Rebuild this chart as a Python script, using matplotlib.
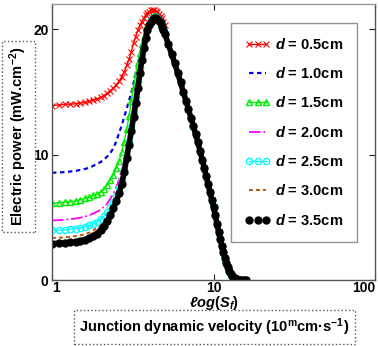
import matplotlib
matplotlib.use("Agg")
import matplotlib.pyplot as plt

plt.rcParams['font.family'] = ['Liberation Sans', 'DejaVu Sans']
plt.rcParams['font.weight'] = 'bold'
plt.rcParams['mathtext.fontset'] = 'custom'
plt.rcParams['mathtext.rm'] = 'Liberation Sans:bold'
plt.rcParams['mathtext.bf'] = 'Liberation Sans:bold'
plt.rcParams['mathtext.it'] = 'Liberation Sans:italic:bold'

# ---------------- data ----------------
s_head = [1.0, 1.1, 1.2, 1.3, 1.4, 1.5, 1.6, 1.7, 1.8, 1.9, 2.0, 2.1, 2.2, 2.3,
          2.4, 2.5, 2.6, 2.7, 2.8, 2.9, 3.0, 3.1, 3.2, 3.3, 3.4, 3.5, 3.6, 3.7,
          3.8, 3.9, 4.0, 4.1, 4.2, 4.3, 4.4, 4.5, 4.6, 4.7, 4.8, 4.9, 5.0]

p_d05 = [13.9, 13.95, 14.0, 14.02, 14.05, 14.1, 14.15, 14.25, 14.35, 14.45, 14.55,
         14.7, 14.9, 15.1, 15.3, 15.55, 15.85, 16.2, 16.6, 17.1, 17.6, 18.2, 18.9,
         19.4, 19.9, 20.3, 20.6, 20.9, 21.1, 21.3, 21.4, 21.5, 21.55, 21.5, 21.45,
         21.35, 21.2, 21.05, 20.85, 20.6, 20.3]
p_d10 = [8.55, 8.57, 8.6, 8.65, 8.7, 8.77, 8.85, 8.95, 9.1, 9.25, 9.4, 9.6, 9.85,
         10.15, 10.5, 11.05, 11.7, 12.3, 13.0, 13.65, 14.3, 14.95, 15.7, 16.5, 17.2,
         17.9, 18.6, 19.2, 19.7, 20.1, 20.45, 20.7, 20.9, 21.0, 21.0, 20.9, 20.75,
         20.5, 20.25, 19.95, 19.65]
p_d15 = [6.1, 6.15, 6.2, 6.25, 6.3, 6.4, 6.5, 6.6, 6.75, 6.85, 7.0, 7.25, 7.6, 8.0,
         8.4, 8.9, 9.5, 10.2, 11.0, 12.0, 13.1, 14.3, 15.4, 16.4, 17.3, 18.1, 18.8,
         19.4, 19.9, 20.3, 20.6, 20.85, 21.0, 21.05, 21.05, 20.95, 20.8, 20.55, 20.3,
         20.0, 19.7]
p_d20 = [4.75, 4.77, 4.8, 4.85, 4.9, 4.97, 5.05, 5.15, 5.3, 5.45, 5.6, 5.85, 6.1,
         6.5, 6.9, 7.4, 8.0, 8.7, 9.5, 10.5, 11.6, 12.8, 14.0, 15.2, 16.3, 17.3, 18.2,
         18.9, 19.5, 20.0, 20.4, 20.7, 20.9, 21.0, 21.0, 20.9, 20.75, 20.5, 20.25,
         19.95, 19.65]
p_d25 = [3.95, 3.97, 4.0, 4.05, 4.1, 4.17, 4.25, 4.35, 4.5, 4.65, 4.85, 5.1, 5.4,
         5.8, 6.2, 6.7, 7.3, 8.0, 8.8, 9.8, 11.0, 12.2, 13.4, 14.6, 15.8, 16.9, 17.9,
         18.7, 19.4, 19.95, 20.4, 20.7, 20.9, 21.0, 21.0, 20.9, 20.75, 20.5, 20.25,
         19.95, 19.65]
p_d30 = [3.35, 3.37, 3.4, 3.45, 3.5, 3.57, 3.65, 3.78, 3.95, 4.15, 4.35, 4.65, 5.0,
         5.4, 5.9, 6.45, 7.1, 7.85, 8.7, 9.75, 10.9, 12.0, 13.2, 14.3, 15.5, 16.7,
         17.7, 18.6, 19.35, 19.9, 20.35, 20.65, 20.85, 20.95, 20.95, 20.85, 20.7,
         20.5, 20.2, 19.9, 19.6]
p_d35 = [2.9, 2.92, 2.95, 3.0, 3.05, 3.12, 3.2, 3.35, 3.5, 3.7, 3.95, 4.3, 4.7,
         5.15, 5.7, 6.3, 6.9, 7.65, 8.6, 9.7, 10.8, 11.9, 13.0, 14.1, 15.3, 16.5,
         17.5, 18.5, 19.3, 19.9, 20.3, 20.6, 20.8, 20.9, 20.9, 20.8, 20.65, 20.45,
         20.2, 19.9, 19.6]

# common decreasing part (all series overlap there)
s_tail = [5.25, 5.5, 5.75, 6.0, 6.25, 6.5, 6.75, 7.0, 7.25, 7.5, 7.75, 8.0, 8.25,
          8.5, 8.75, 9.0, 9.25, 9.5, 9.75, 10.0, 10.25, 10.5, 10.75, 11.0, 11.25,
          11.5, 11.75, 12.0, 12.25, 12.5, 12.75, 13.0, 13.5, 14.0, 14.5, 15.0, 15.5,
          16.0]
p_tail = [18.8, 18.0, 17.3, 16.5, 15.75, 15.0, 14.3, 13.6, 12.9, 12.3, 11.6, 11.0,
          10.3, 9.6, 8.95, 8.3, 7.65, 7.05, 6.4, 5.8, 5.15, 4.5, 3.85, 3.25, 2.7,
          2.2, 1.75, 1.35, 1.0, 0.7, 0.48, 0.32, 0.15, 0.07, 0.03, 0.015, 0.005, 0.0]

labels = [r'$d$ = 0.5cm', r'$d$ = 1.0cm', r'$d$ = 1.5cm', r'$d$ = 2.0cm',
          r'$d$ = 2.5cm', r'$d$ = 3.0cm', r'$d$ = 3.5cm']
series = [p_d05, p_d10, p_d15, p_d20, p_d25, p_d30, p_d35]

x_ticks = [1, 10, 100]
x_ticklabels = ['1', '10', '100']
y_ticks = [0, 10, 20]
y_ticklabels = ['0', '10', '20']

# ---------------- styles ----------------
styles = [
    dict(color='#ff0000', ls='-', lw=1.0, marker='x', ms=4, mew=0.8),
    dict(color='#0000ee', ls=(0, (2, 1.6)), lw=1.6, marker=None),
    dict(color='#00ee00', ls='-', lw=1.0, marker='^', ms=4.5, mfc='none', mew=1.0),
    dict(color='#ff00ff', ls='-.', lw=1.3, marker=None),
    dict(color='#00ffff', ls='-', lw=1.0, marker='o', ms=4.5, mfc='none', mew=1.0),
    dict(color='#b35a00', ls=(0, (2, 1.6)), lw=1.4, marker=None),
    dict(color='#000000', ls='-', lw=4.0, marker='o', ms=6, mew=0),
]

W, H = 378, 346
fig = plt.figure(figsize=(W / 100, H / 100), dpi=100)
ax = fig.add_axes([52 / W, 1 - 280 / H, 323 / W, 276 / H])

for y_head, lab, st in zip(series, labels, styles):
    ax.plot(s_head + s_tail, y_head + p_tail, label=lab, **st)

ax.set_xscale('log')
ax.set_xlim(1, 100)
ax.set_ylim(0, 22)
ax.set_xticks(x_ticks)
ax.set_xticklabels(x_ticklabels)
ax.xaxis.set_minor_locator(matplotlib.ticker.NullLocator())
ax.set_yticks(y_ticks)
ax.set_yticklabels(y_ticklabels)
ax.tick_params(direction='in', top=True, right=True, length=4, width=0.8,
               labelsize=10, colors='#222222')
ax.tick_params(axis='x', pad=0.5)
ax.tick_params(axis='y', pad=2.5)
for sp in ax.spines.values():
    sp.set_color('#555555')
    sp.set_linewidth(1.0)
ax.spines['top'].set_color('#999999')
xtl = ax.get_xticklabels()
xtl[0].set_ha('left')
xtl[-1].set_ha('right')
for t in xtl + ax.get_yticklabels():
    t.set_fontweight('bold')
    t.set_color('black')

leg = ax.legend(loc='upper left', bbox_to_anchor=(0.554, 0.931), borderaxespad=0,
                frameon=True, fancybox=False, edgecolor='#777777', fontsize=10.5,
                numpoints=3, handlelength=1.75, handletextpad=0.35,
                labelspacing=0.98, borderpad=0.95)
leg.get_frame().set_linewidth(1.0)
leg.get_lines()[-1].set_linewidth(0.0)
for t in leg.get_texts():
    t.set_fontweight('bold')

fig.text(213.5 / W, 1 - 294 / H, r'$ℓog(S_f)$', ha='center', va='top',
         fontsize=10.5)

box = dict(boxstyle='square,pad=0.4', fc='white', ec='#555555', ls=':', lw=1.0)
fig.text(214.5 / W, 1 - 327 / H,
         r'Junction dynamic velocity (10$^{\mathrm{m}}$cm·s$^{-1}$)',
         ha='center', va='center', fontsize=10.5, fontweight='bold', bbox=box)
fig.text(18.5 / W, 1 - 136.5 / H, r'Electric power (mW.cm$^{-2}$)',
         ha='center', va='center', rotation=90, fontsize=10.5, fontweight='bold',
         bbox=dict(boxstyle='square,pad=0.4', fc='white', ec='#555555', ls=':',
                   lw=1.0))

fig.savefig('out.png', dpi=100)
